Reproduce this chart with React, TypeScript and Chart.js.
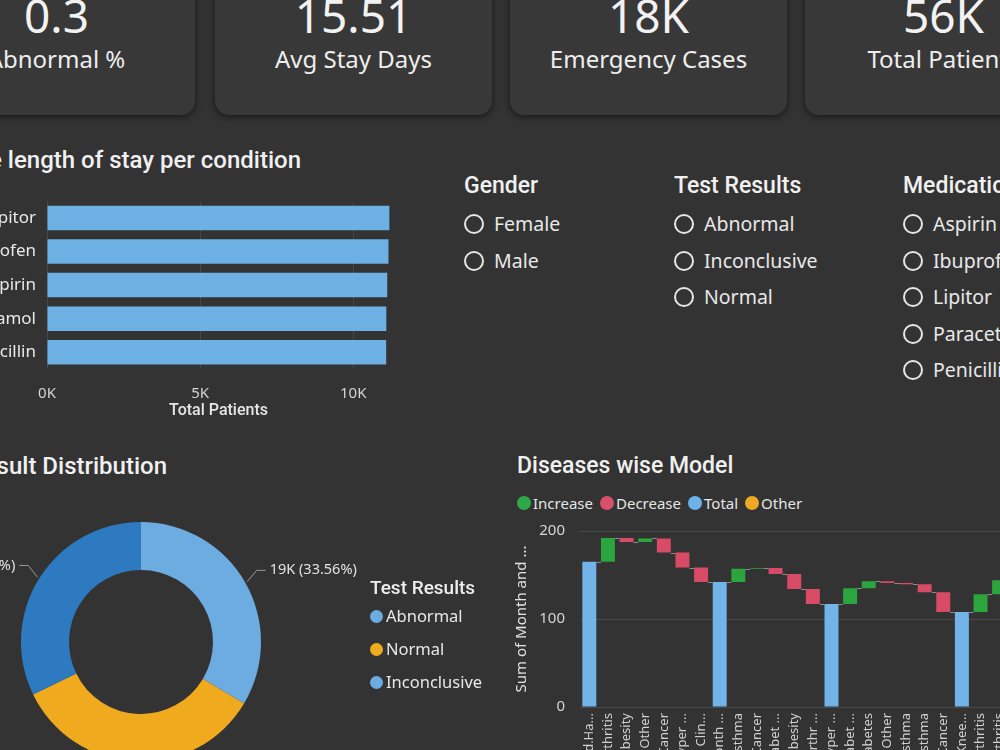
import React, { useEffect, useRef } from "react";
import { Chart, registerables } from "chart.js";

Chart.register(...registerables);

const SANS = "'Noto Sans', 'Open Sans', sans-serif";
const HEAD = "Roboto, 'Noto Sans', sans-serif";
Chart.defaults.font.family = SANS;

// ---- KPI cards ----
const kpiValues = ["0.3", "15.51", "18K", "56K"];
const kpiLabels = ["Abnormal %", "Avg Stay Days", "Emergency Cases", "Total Patients"];

// ---- Bar chart: patients per medication ----
const conditionTitle = "Average length of stay per condition";
const medicationNames = ["Lipitor", "Ibuprofen", "Aspirin", "Paracetamol", "Penicillin"];
const medicationPatients = [11180, 11150, 11110, 11080, 11075];
const patientTickValues = [0, 5000, 10000];
const patientAxisTitle = "Total Patients";

// ---- Slicers ----
const genderItems = ["Female", "Male"];
const testResultItems = ["Abnormal", "Inconclusive", "Normal"];
const medicationItems = ["Aspirin", "Ibuprofen", "Lipitor", "Paracetamol", "Penicillin"];

// ---- Donut: test result distribution ----
const donutTitle = "Test Result Distribution";
const resultNames = ["Abnormal", "Normal", "Inconclusive"];
const resultCounts = [18627, 19000, 17873];
const resultColors = ["#6cace0", "#f0aa1e", "#2e7ac0"];
const resultLegendColors = ["#6cace0", "#f0aa1e", "#6cace0"];

// ---- Waterfall: diseases wise model ----
const waterfallTitle = "Diseases wise Model";
const diseaseLabels = [
  "Med.Ha...", "Arthritis", "Obesity", "Other", "Cancer", "Hyper ...", "Clin...",
  "Month ...", "Asthma", "Cancer", "Diabet ...", "Obesity", "Arthr ...",
  "Hyper ...", "Diabet ...", "Diabetes", "Other", "Asthma", "Asthma", "Cancer",
  "Knee...", "Arthritis", "Arthritis", "Obesity", "Cancer",
];
const diseaseKinds = [
  "total", "inc", "dec", "inc", "dec", "dec", "dec",
  "total", "inc", "inc", "dec", "dec", "dec",
  "total", "inc", "inc", "dec", "dec", "dec", "dec",
  "total", "inc", "inc", "dec", "dec",
];
const diseaseValues = [
  165, 27, 4.5, 4, 16, 17, 16.5,
  142, 15, 1, 7, 17, 17,
  117, 18, 8, 2, 1.5, 9, 22.5,
  108, 20, 16, 6, 9,
];
const waterfallTicks = [0, 100, 200];
const waterfallLegendNames = ["Increase", "Decrease", "Total", "Other"];
const waterfallLegendColors = ["#2ea84a", "#d9506a", "#6cb2e8", "#f0a822"];
const waterfallYTitle = "Sum of Month and ...";

const kindColor: Record<string, string> = {
  inc: "#2ca53e",
  dec: "#d84b66",
  total: "#72b3e8",
};

// floating ranges built from the values
const waterfallRanges: number[][] = (() => {
  let level = 0;
  return diseaseValues.map((v, i) => {
    const k = diseaseKinds[i];
    if (k === "total") {
      level = v;
      return [0, v];
    }
    const start = level;
    level = k === "inc" ? level + v : level - v;
    return [start, level];
  });
})();

const connectorPlugin = {
  id: "wfConnectors",
  afterDatasetsDraw(chart: any) {
    const { ctx } = chart;
    const meta = chart.getDatasetMeta(0);
    const ys = chart.scales.y;
    ctx.save();
    ctx.strokeStyle = "#8c8c8c";
    ctx.lineWidth = 1;
    for (let i = 0; i < meta.data.length - 1; i++) {
      const a = meta.data[i];
      const b = meta.data[i + 1];
      const py = Math.round(ys.getPixelForValue(waterfallRanges[i][1])) + 0.5;
      ctx.beginPath();
      ctx.moveTo(a.x + a.width / 2, py);
      ctx.lineTo(b.x - b.width / 2, py);
      ctx.stroke();
    }
    ctx.restore();
  },
};

const donutLabelPlugin = {
  id: "donutLabels",
  afterDatasetsDraw(chart: any) {
    const { ctx } = chart;
    const meta = chart.getDatasetMeta(0);
    const total = resultCounts.reduce((a, b) => a + b, 0);
    ctx.save();
    meta.data.forEach((arc: any, i: number) => {
      const { x, y, startAngle, endAngle, outerRadius } = arc.getProps(
        ["x", "y", "startAngle", "endAngle", "outerRadius"],
        true
      );
      const mid = (startAngle + endAngle) / 2;
      const c = Math.cos(mid);
      const s = Math.sin(mid);
      const x1 = x + c * (outerRadius + 2);
      const y1 = y + s * (outerRadius + 2);
      const x2 = x + c * (outerRadius + 13);
      const y2 = y + s * (outerRadius + 13) - 6;
      const right = c >= 0;
      const x3 = x2 + (right ? 9 : -9);
      ctx.strokeStyle = "#9a9a9a";
      ctx.lineWidth = 1;
      ctx.beginPath();
      ctx.moveTo(x1, y1);
      ctx.lineTo(x2, y2);
      ctx.lineTo(x3, y2);
      ctx.stroke();
      const v = resultCounts[i];
      ctx.fillStyle = "#e2e2e2";
      ctx.font = `14.5px ${SANS}`;
      ctx.textAlign = right ? "left" : "right";
      ctx.textBaseline = "middle";
      ctx.fillText(
        `${Math.round(v / 1000)}K (${((v / total) * 100).toFixed(2)}%)`,
        x3 + (right ? 4 : -4),
        y2
      );
    });
    ctx.restore();
  },
};

function ChartBox(props: { left: number; top: number; width: number; height: number; make: () => any }) {
  const ref = useRef<HTMLCanvasElement>(null);
  useEffect(() => {
    const chart = new Chart(ref.current as HTMLCanvasElement, props.make());
    return () => chart.destroy();
  }, []);
  return (
    <canvas
      ref={ref}
      width={props.width}
      height={props.height}
      style={{ position: "absolute", left: props.left, top: props.top, width: props.width, height: props.height }}
    />
  );
}

function Txt(props: {
  x?: number;
  right?: number;
  cy: number;
  size: number;
  weight?: number;
  family?: string;
  color?: string;
  children: any;
}) {
  const style: any = {
    position: "absolute",
    top: props.cy - 25,
    height: 50,
    lineHeight: "50px",
    fontSize: props.size,
    fontWeight: props.weight ?? 400,
    fontFamily: props.family ?? SANS,
    color: props.color ?? "#eeeeee",
    whiteSpace: "nowrap",
  };
  if (props.right !== undefined) style.right = 1000 - props.right;
  else style.left = props.x;
  return <div style={style}>{props.children}</div>;
}

function Slicer(props: { x: number; title: string; items: string[] }) {
  return (
    <>
      <Txt x={props.x} cy={186} size={23} weight={500} family={HEAD} color="#f0f0f0">
        {props.title}
      </Txt>
      {props.items.map((it, i) => (
        <div
          key={it}
          style={{
            position: "absolute",
            left: props.x,
            top: 224 + i * 36.6 - 15,
            height: 30,
            display: "flex",
            alignItems: "center",
            whiteSpace: "nowrap",
          }}
        >
          <span
            style={{
              width: 20,
              height: 20,
              borderRadius: "50%",
              border: "2px solid #e6e6e6",
              boxSizing: "border-box",
              marginRight: 10,
              flex: "none",
            }}
          />
          <span style={{ fontFamily: SANS, fontSize: 19.5, color: "#e8e8e8", lineHeight: "30px" }}>{it}</span>
        </div>
      ))}
    </>
  );
}

const cardLefts = [-82, 215, 510, 805];

export default function App() {
  const makeBar = () => ({
    type: "bar",
    data: {
      labels: medicationNames,
      datasets: [
        {
          data: medicationPatients,
          backgroundColor: "#6cb0e4",
          borderWidth: 0,
          barPercentage: 0.73,
          categoryPercentage: 1,
        },
      ],
    },
    options: {
      indexAxis: "y",
      responsive: false,
      animation: false,
      layout: { padding: { top: 18, right: 10, left: 0, bottom: 0 } },
      plugins: { legend: { display: false }, tooltip: { enabled: false } },
      scales: {
        x: {
          min: 0,
          max: 11200,
          afterBuildTicks: (s: any) => {
            s.ticks = patientTickValues.map((v) => ({ value: v }));
          },
          grid: { color: "#474747", drawTicks: false },
          border: { display: false },
          ticks: {
            padding: 16,
            color: "#d4d4d4",
            font: { size: 15, family: SANS },
            callback: (v: any) => `${Number(v) / 1000}K`,
          },
          title: {
            display: true,
            text: patientAxisTitle,
            color: "#e6e6e6",
            font: { size: 16, weight: "500", family: HEAD },
            padding: { top: 0, bottom: 8 },
          },
          afterFit: (s: any) => {
            s.height = 60;
          },
        },
        y: {
          grid: { display: false, drawTicks: false },
          border: { display: false },
          ticks: { padding: 11, color: "#e8e8e8", font: { size: 17, family: SANS } },
          afterFit: (s: any) => {
            s.width = 120;
          },
        },
      },
    },
  });

  const makeDonut = () => ({
    type: "doughnut",
    data: {
      labels: resultNames,
      datasets: [
        {
          data: resultCounts,
          backgroundColor: resultColors,
          borderWidth: 0,
          hoverOffset: 0,
        },
      ],
    },
    options: {
      responsive: false,
      animation: false,
      cutout: "60%",
      layout: { padding: { left: 160, right: 160, top: 30, bottom: 30 } },
      plugins: { legend: { display: false }, tooltip: { enabled: false } },
    },
    plugins: [donutLabelPlugin],
  });

  const makeWaterfall = () => ({
    type: "bar",
    data: {
      labels: diseaseLabels,
      datasets: [
        {
          data: waterfallRanges,
          backgroundColor: diseaseKinds.map((k) => kindColor[k]),
          borderWidth: 0,
          barPercentage: 0.75,
          categoryPercentage: 1,
        },
      ],
    },
    options: {
      responsive: false,
      animation: false,
      layout: { padding: { top: 0, left: 0, right: 0, bottom: 0 } },
      plugins: { legend: { display: false }, tooltip: { enabled: false } },
      scales: {
        x: {
          grid: { display: false, drawTicks: false },
          border: { display: false },
          ticks: {
            autoSkip: false,
            minRotation: 90,
            maxRotation: 90,
            padding: 6,
            color: "#d0d0d0",
            font: { size: 13, family: SANS },
          },
          afterFit: (s: any) => {
            s.height = 100;
          },
        },
        y: {
          min: 0,
          max: 200,
          afterBuildTicks: (s: any) => {
            s.ticks = waterfallTicks.map((v) => ({ value: v }));
          },
          grid: { color: "#4a4a4a", drawTicks: false },
          border: { display: false },
          ticks: { padding: 15, color: "#d4d4d4", font: { size: 15, family: SANS } },
          title: {
            display: true,
            text: waterfallYTitle,
            color: "#e2e2e2",
            font: { size: 15, family: SANS },
            padding: { top: 8, bottom: 0 },
          },
          afterFit: (s: any) => {
            s.width = 75;
          },
        },
      },
    },
    plugins: [connectorPlugin],
  });

  return (
    <div
      style={{
        position: "fixed",
        left: 0,
        top: 0,
        width: 1000,
        height: 750,
        overflow: "hidden",
        background: "#333333",
        fontFamily: SANS,
      }}
    >
      {/* KPI cards */}
      {kpiValues.map((v, i) => (
        <div
          key={v}
          style={{
            position: "absolute",
            left: cardLefts[i],
            top: -40,
            width: 277,
            height: 155,
            borderRadius: 14,
            background: "#383838",
            boxShadow: "0 2px 7px rgba(0,0,0,0.55)",
          }}
        >
          <div
            style={{
              position: "absolute",
              left: 0,
              width: 277,
              top: 40 + 16 - 26,
              height: 50,
              lineHeight: "50px",
              textAlign: "center",
              fontSize: 46,
              color: "#f2f2f2",
              fontFamily: SANS,
            }}
          >
            {v}
          </div>
          <div
            style={{
              position: "absolute",
              left: 0,
              width: 277,
              top: 40 + 60 - 26,
              height: 50,
              lineHeight: "50px",
              textAlign: "center",
              fontSize: 24,
              color: "#eeeeee",
              fontFamily: SANS,
              whiteSpace: "nowrap",
            }}
          >
            {kpiLabels[i]}
          </div>
        </div>
      ))}

      {/* Bar chart */}
      <Txt right={301} cy={160} size={24} weight={500} family={HEAD} color="#f0f0f0">
        {conditionTitle}
      </Txt>
      <ChartBox left={-73} top={180} width={473} height={249} make={makeBar} />

      {/* Slicers */}
      <Slicer x={464} title="Gender" items={genderItems} />
      <Slicer x={674} title="Test Results" items={testResultItems} />
      <Slicer x={903} title="Medication" items={medicationItems} />

      {/* Donut */}
      <Txt right={167} cy={466} size={24} weight={500} family={HEAD} color="#f0f0f0">
        {donutTitle}
      </Txt>
      <ChartBox left={-139} top={492} width={560} height={300} make={makeDonut} />
      <Txt x={370} cy={588} size={19} weight={500} family={HEAD} color="#eeeeee">
        Test Results
      </Txt>
      {resultNames.map((n, i) => (
        <div
          key={n}
          style={{
            position: "absolute",
            left: 370,
            top: 616 + i * 33 - 15,
            height: 30,
            display: "flex",
            alignItems: "center",
            whiteSpace: "nowrap",
          }}
        >
          <span
            style={{
              width: 13,
              height: 13,
              borderRadius: "50%",
              background: resultLegendColors[i],
              marginRight: 3,
              flex: "none",
            }}
          />
          <span style={{ fontSize: 16.5, color: "#e8e8e8", lineHeight: "30px" }}>{n}</span>
        </div>
      ))}

      {/* Waterfall */}
      <Txt x={517} cy={466} size={23} weight={500} family={HEAD} color="#f0f0f0">
        {waterfallTitle}
      </Txt>
      <div
        style={{
          position: "absolute",
          left: 517,
          top: 503 - 15,
          height: 30,
          display: "flex",
          alignItems: "center",
          whiteSpace: "nowrap",
        }}
      >
        {waterfallLegendNames.map((n, i) => (
          <span key={n} style={{ display: "flex", alignItems: "center", marginRight: 7 }}>
            <span
              style={{
                width: 14,
                height: 14,
                borderRadius: "50%",
                background: waterfallLegendColors[i],
                marginRight: 2,
                flex: "none",
              }}
            />
            <span style={{ fontSize: 15, color: "#e6e6e6", lineHeight: "30px" }}>{n}</span>
          </span>
        ))}
      </div>
      <ChartBox left={505} top={507} width={553} height={300} make={makeWaterfall} />
    </div>
  );
}
